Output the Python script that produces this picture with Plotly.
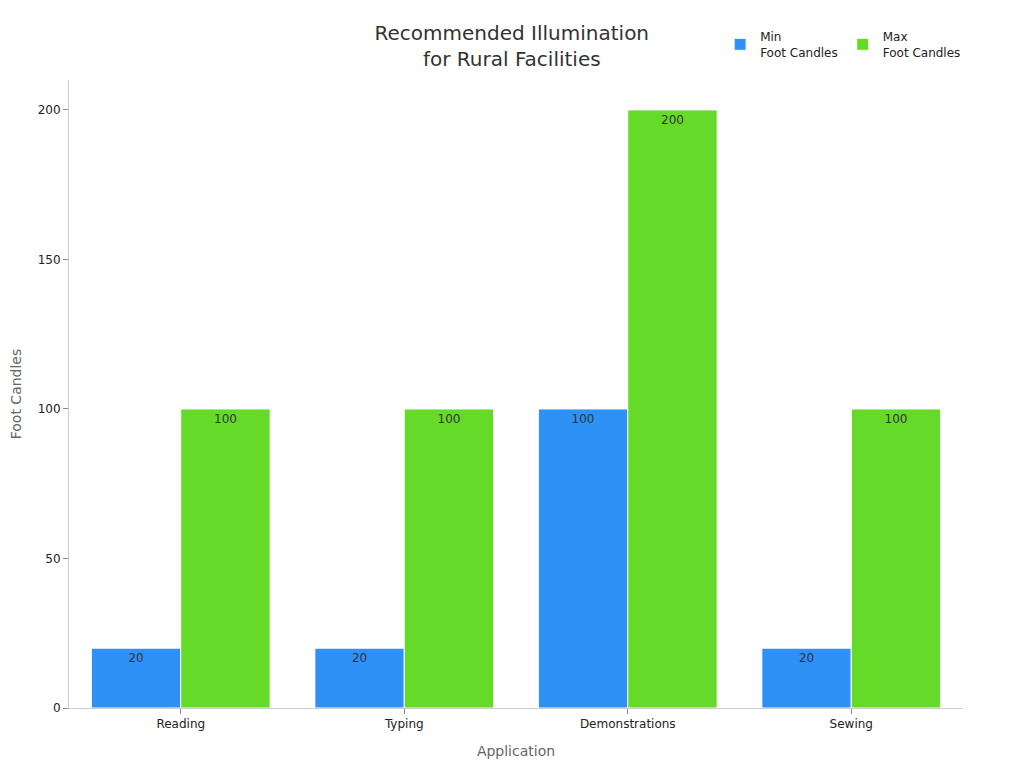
import plotly.graph_objects as go

applications = ["Reading", "Typing", "Demonstrations", "Sewing"]
min_fc = [20, 20, 100, 20]
max_fc = [100, 100, 200, 100]

fig = go.Figure()
fig.add_trace(go.Bar(
    x=applications, y=min_fc, name="Min<br>Foot Candles",
    marker=dict(color="#2e91f5", line=dict(color="white", width=1)),
    text=min_fc, textposition="inside", insidetextanchor="end",
    textfont=dict(color="#333333", size=12),
))
fig.add_trace(go.Bar(
    x=applications, y=max_fc, name="Max<br>Foot Candles",
    marker=dict(color="#66da28", line=dict(color="white", width=1)),
    text=max_fc, textposition="inside", insidetextanchor="end",
    textfont=dict(color="#333333", size=12),
))

fig.update_layout(
    width=1024, height=768,
    template="plotly_white",
    font=dict(family="DejaVu Sans", color="#222222", size=12),
    title=dict(text="Recommended Illumination<br>for Rural Facilities",
               x=0.492, xanchor="center", y=0.958, yanchor="top",
               font=dict(size=20, color="#333333")),
    barmode="group", bargap=0.2, bargroupgap=0,
    margin=dict(l=61, r=69, t=72, b=68, autoexpand=False),
    legend=dict(orientation="h", x=1.0035, xanchor="right", y=1.092, yanchor="top",
                font=dict(size=12)),
    plot_bgcolor="white",
    xaxis=dict(title=dict(text="Application", font=dict(color="#666666", size=14)),
               showgrid=False, showline=True, linecolor="#cccccc",
               ticks="outside", tickcolor="#888888", ticklen=5),
    yaxis=dict(title=dict(text="Foot Candles", font=dict(color="#666666", size=14)),
               range=[0, 210], tickvals=[0, 50, 100, 150, 200],
               showgrid=False, zeroline=False, showline=True, linecolor="#cccccc",
               ticks="outside", tickcolor="#888888", ticklen=5),
)

fig.write_html("out.html")
